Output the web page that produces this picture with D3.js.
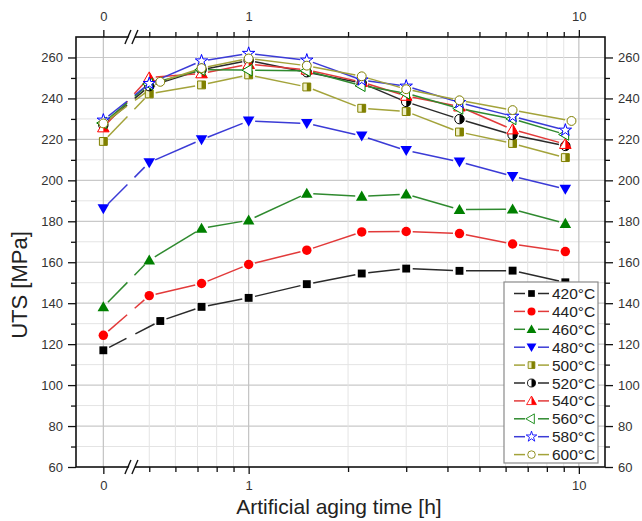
<!DOCTYPE html>
<html>
<head>
<meta charset="utf-8">
<script src="https://cdn.jsdelivr.net/npm/d3@7"></script>
<style>
  html, body { margin: 0; padding: 0; background: #fff; }
  svg { display: block; font-family: "Liberation Sans", Arial, sans-serif; }
</style>
</head>
<body>
<svg id="chart" width="642" height="521"></svg>
<script>
// ---------------- data ----------------
const series = ["420°C","440°C","460°C","480°C","500°C","520°C","540°C","560°C","580°C","600°C"];
const timesA   = [0, 0.5, 0.72, 1, 1.5, 2.2, 3, 4.35, 6.3, 9.1];
const timesB   = [0, 0.54, 0.72, 1, 1.5, 2.2, 3, 4.35, 6.3, 9.1];
const timesC   = [0, 0.54, 0.72, 1, 1.5, 2.2, 3, 4.35, 6.3, 9.5];
const uts420 = [117.0, 131.3, 138.2, 142.6, 149.3, 154.5, 156.9, 155.8, 155.9, 150.2];
const uts440 = [124.3, 143.7, 149.6, 158.9, 165.9, 174.8, 175.0, 174.0, 168.9, 165.2];
const uts460 = [138.2, 161.0, 176.5, 180.5, 193.6, 192.2, 193.2, 185.7, 185.9, 178.9];
const uts480 = [186.2, 208.7, 219.9, 229.0, 227.8, 221.7, 214.6, 209.0, 202.0, 195.7];
const uts500 = [219.0, 242.2, 246.6, 251.5, 245.6, 235.2, 233.6, 223.6, 218.0, 211.1];
const uts520 = [227.0, 246.0, 254.0, 258.5, 252.8, 247.5, 238.3, 229.9, 222.2, 216.8];
const uts540 = [225.8, 250.2, 252.2, 256.7, 254.0, 248.0, 241.2, 236.0, 224.8, 217.7];
const uts560 = [228.0, 247.0, 254.0, 253.8, 253.5, 246.2, 242.5, 235.1, 230.0, 222.4];
const uts580 = [229.4, 247.3, 258.3, 262.0, 258.7, 249.0, 246.0, 238.0, 231.3, 224.5];
const uts600 = [227.8, 248.1, 254.8, 259.5, 256.0, 250.8, 244.5, 239.1, 234.3, 229.0];
const xMajorTicks = [0, 1, 10];
const xMinorTicks = [0.5, 0.6, 0.7, 0.8, 0.9, 2, 3, 4, 5, 6, 7, 8, 9];
const yMajorTicks = [60, 80, 100, 120, 140, 160, 180, 200, 220, 240, 260];
const yMinorTicks = [70, 90, 110, 130, 150, 170, 190, 210, 230, 250];

const seriesTimes = [timesB, timesA, timesA, timesA, timesA, timesA, timesA, timesA, timesA, timesC];
const seriesVals = [uts420, uts440, uts460, uts480, uts500, uts520, uts540, uts560, uts580, uts600];
const markerColor = ["#000000","#ff0000","#008000","#0000ff","#808000","#000000","#ff0000","#008000","#0000ff","#808000"];
const lineColor   = ["#2a2a2a","#e23a3a","#2f8a2f","#3b3bd6","#a3a33a","#2a2a2a","#e23a3a","#2f8a2f","#3b3bd6","#a3a33a"];
const markerType  = ["square","circle","triUp","triDown","halfSquare","halfCircle","halfTri","triLeft","star","openCircle"];

// ---------------- layout ----------------
const L = 76, R = 605, T = 37, B = 467;
const ZERO_POS = 0.363;   // where t = 0 sits on the broken log axis
const BREAK_POS = 0.44;   // axis break "//"

const svg = d3.select("#chart");
const x = d3.scaleLog().domain([0.3, 12]).range([L, R]);
const y = d3.scaleLinear().domain([60, 270]).range([B, T]);
const xp = t => x(t === 0 ? ZERO_POS : t);

// ---------------- grid ----------------
const grid = svg.append("g");
grid.selectAll(".hmin").data(yMinorTicks).join("line")
  .attr("x1", L).attr("x2", R).attr("y1", d => y(d)).attr("y2", d => y(d))
  .attr("stroke", "#e4e4e4").attr("stroke-width", 1);
grid.selectAll(".hmaj").data(yMajorTicks.slice(1)).join("line")
  .attr("x1", L).attr("x2", R).attr("y1", d => y(d)).attr("y2", d => y(d))
  .attr("stroke", "#c9c9c9").attr("stroke-width", 1.2);
grid.selectAll(".vmin").data(xMinorTicks).join("line")
  .attr("x1", d => x(d)).attr("x2", d => x(d)).attr("y1", T).attr("y2", B)
  .attr("stroke", "#e4e4e4").attr("stroke-width", 1);
grid.selectAll(".vmaj").data(xMajorTicks).join("line")
  .attr("x1", d => xp(d)).attr("x2", d => xp(d)).attr("y1", T).attr("y2", B)
  .attr("stroke", "#c2c2c2").attr("stroke-width", 1.2);

// ---------------- lines (with gaps at markers and at axis break) ----------------
const GAP = 6.5;
const breakX = x(BREAK_POS);
const lineG = svg.append("g");
function seg(x1, y1, x2, y2, g1, g2, col) {
  const dx = x2 - x1, dy = y2 - y1, len = Math.hypot(dx, dy);
  if (len <= g1 + g2) return;
  const ux = dx / len, uy = dy / len;
  lineG.append("line")
    .attr("x1", x1 + ux * g1).attr("y1", y1 + uy * g1)
    .attr("x2", x2 - ux * g2).attr("y2", y2 - uy * g2)
    .attr("stroke", col).attr("stroke-width", 1.5);
}
seriesVals.forEach((vals, si) => {
  const ts = seriesTimes[si];
  for (let i = 0; i < vals.length - 1; i++) {
    const x1 = xp(ts[i]), y1 = y(vals[i]), x2 = xp(ts[i + 1]), y2 = y(vals[i + 1]);
    if (ts[i] === 0) {
      const f = (breakX - x1) / (x2 - x1);
      const bx = breakX, by = y1 + f * (y2 - y1);
      seg(x1, y1, bx, by, GAP, 5, lineColor[si]);
      seg(bx, by, x2, y2, 5, GAP, lineColor[si]);
    } else {
      seg(x1, y1, x2, y2, GAP, GAP, lineColor[si]);
    }
  }
});

// ---------------- markers ----------------
const defs = svg.append("defs");
defs.append("clipPath").attr("id", "rightHalf")
  .append("rect").attr("x", 0).attr("y", -12).attr("width", 12).attr("height", 24);

function drawMarker(g, type, col) {
  const sq = d3.symbol().type(d3.symbolSquare).size(62)();
  const ci = d3.symbol().type(d3.symbolCircle).size(70)();
  const oc = d3.symbol().type(d3.symbolCircle).size(62)();
  const tri = d3.symbol().type(d3.symbolTriangle).size(58)();
  const st = d3.symbol().type(d3.symbolStar).size(48)();
  switch (type) {
    case "square": g.append("path").attr("d", sq).attr("fill", col); break;
    case "circle": g.append("path").attr("d", ci).attr("fill", col); break;
    case "triUp": g.append("path").attr("d", tri).attr("fill", col).attr("transform", "translate(0,1)"); break;
    case "triDown": g.append("path").attr("d", tri).attr("fill", col).attr("transform", "translate(0,-1) rotate(180)"); break;
    case "triLeft": g.append("path").attr("d", tri).attr("fill", "#fff").attr("stroke", col).attr("stroke-width", 1)
        .attr("transform", "rotate(-90)"); break;
    case "star": g.append("path").attr("d", st).attr("fill", "#fff").attr("stroke", col).attr("stroke-width", 1); break;
    case "openCircle": g.append("path").attr("d", oc).attr("fill", "#fff").attr("stroke", col).attr("stroke-width", 1); break;
    case "halfSquare":
      g.append("path").attr("d", sq).attr("fill", "#f0f0c8").attr("stroke", col).attr("stroke-width", 1);
      g.append("path").attr("d", sq).attr("fill", col).attr("clip-path", "url(#rightHalf)");
      break;
    case "halfCircle":
      g.append("path").attr("d", ci).attr("fill", "#fff").attr("stroke", col).attr("stroke-width", 1);
      g.append("path").attr("d", ci).attr("fill", col).attr("clip-path", "url(#rightHalf)");
      break;
    case "halfTri":
      g.append("path").attr("d", tri).attr("fill", "#fff").attr("stroke", col).attr("stroke-width", 1).attr("transform", "translate(0,1)");
      g.append("path").attr("d", tri).attr("fill", col).attr("clip-path", "url(#rightHalf)").attr("transform", "translate(0,1)");
      break;
  }
}
const markG = svg.append("g");
seriesVals.forEach((vals, si) => {
  const ts = seriesTimes[si];
  vals.forEach((v, i) => {
    const g = markG.append("g").attr("transform", `translate(${xp(ts[i])},${y(v)})`);
    drawMarker(g, markerType[si], markerColor[si]);
  });
});

// ---------------- axes ----------------
const fmtX = d => d === ZERO_POS ? "0" : String(d);
const xMajVals = xMajorTicks.map(d => d === 0 ? ZERO_POS : d);
function styleAxis(g) {
  g.select(".domain").remove();
  g.selectAll(".tick line").attr("stroke", "#111").attr("stroke-width", 1.3);
  g.selectAll(".tick text").attr("fill", "#333").style("font-size", "13px");
}
svg.append("g").attr("transform", `translate(0,${B})`)
  .call(d3.axisBottom(x).tickValues(xMajVals).tickFormat(fmtX).tickSize(7).tickPadding(7)).call(styleAxis);
svg.append("g").attr("transform", `translate(0,${B})`)
  .call(d3.axisBottom(x).tickValues(xMinorTicks).tickFormat("").tickSize(5)).call(styleAxis);
svg.append("g").attr("transform", `translate(0,${T})`)
  .call(d3.axisTop(x).tickValues(xMajVals).tickFormat(fmtX).tickSize(7).tickPadding(9)).call(styleAxis);
svg.append("g").attr("transform", `translate(0,${T})`)
  .call(d3.axisTop(x).tickValues(xMinorTicks).tickFormat("").tickSize(5)).call(styleAxis);
svg.append("g").attr("transform", `translate(${L},0)`)
  .call(d3.axisLeft(y).tickValues(yMajorTicks).tickSize(8).tickPadding(5)).call(styleAxis);
svg.append("g").attr("transform", `translate(${L},0)`)
  .call(d3.axisLeft(y).tickValues(yMinorTicks).tickFormat("").tickSize(5)).call(styleAxis);
svg.append("g").attr("transform", `translate(${R},0)`)
  .call(d3.axisRight(y).tickValues(yMajorTicks).tickSize(8).tickPadding(5)).call(styleAxis);
svg.append("g").attr("transform", `translate(${R},0)`)
  .call(d3.axisRight(y).tickValues(yMinorTicks).tickFormat("").tickSize(5)).call(styleAxis);

// frame
svg.append("rect").attr("x", L).attr("y", T).attr("width", R - L).attr("height", B - T)
  .attr("fill", "none").attr("stroke", "#111").attr("stroke-width", 1.6);

// axis break marks
[T, B].forEach(yy => {
  const g = svg.append("g").attr("transform", `translate(${breakX},${yy})`);
  g.append("path").attr("d", "M-5,7 L1,-7 L7,-7 L1,7 Z").attr("fill", "#fff");
  g.append("line").attr("x1", -6).attr("y1", 7).attr("x2", 0).attr("y2", -7).attr("stroke", "#111").attr("stroke-width", 1.4);
  g.append("line").attr("x1", 1).attr("y1", 7).attr("x2", 7).attr("y2", -7).attr("stroke", "#111").attr("stroke-width", 1.4);
});

// axis titles
svg.append("text").attr("x", 339).attr("y", 514).attr("text-anchor", "middle")
  .style("font-size", "21px").attr("fill", "#222").text("Artificial aging time [h]");
svg.append("text").attr("transform", "translate(27,285) rotate(-90)").attr("text-anchor", "middle")
  .style("font-size", "22px").attr("fill", "#222").text("UTS [MPa]");

// ---------------- legend ----------------
const lg = svg.append("g").attr("transform", "translate(504,282)");
lg.append("rect").attr("x", 0).attr("y", 0).attr("width", 94).attr("height", 181)
  .attr("fill", "#fff").attr("stroke", "#8a8a8a").attr("stroke-width", 1.2);
series.forEach((name, si) => {
  const ry = 11.5 + si * 17.9;
  const row = lg.append("g").attr("transform", `translate(0,${ry})`);
  row.append("line").attr("x1", 10).attr("x2", 21).attr("y1", 0).attr("y2", 0).attr("stroke", lineColor[si]).attr("stroke-width", 1.5);
  row.append("line").attr("x1", 34).attr("x2", 45).attr("y1", 0).attr("y2", 0).attr("stroke", lineColor[si]).attr("stroke-width", 1.5);
  const mg = row.append("g").attr("transform", "translate(27.5,0) scale(0.85)");
  drawMarker(mg, markerType[si], markerColor[si]);
  row.append("text").attr("x", 48).attr("y", 5.5).style("font-size", "15.5px").attr("fill", "#222").text(name);
});
</script>
</body>
</html>
